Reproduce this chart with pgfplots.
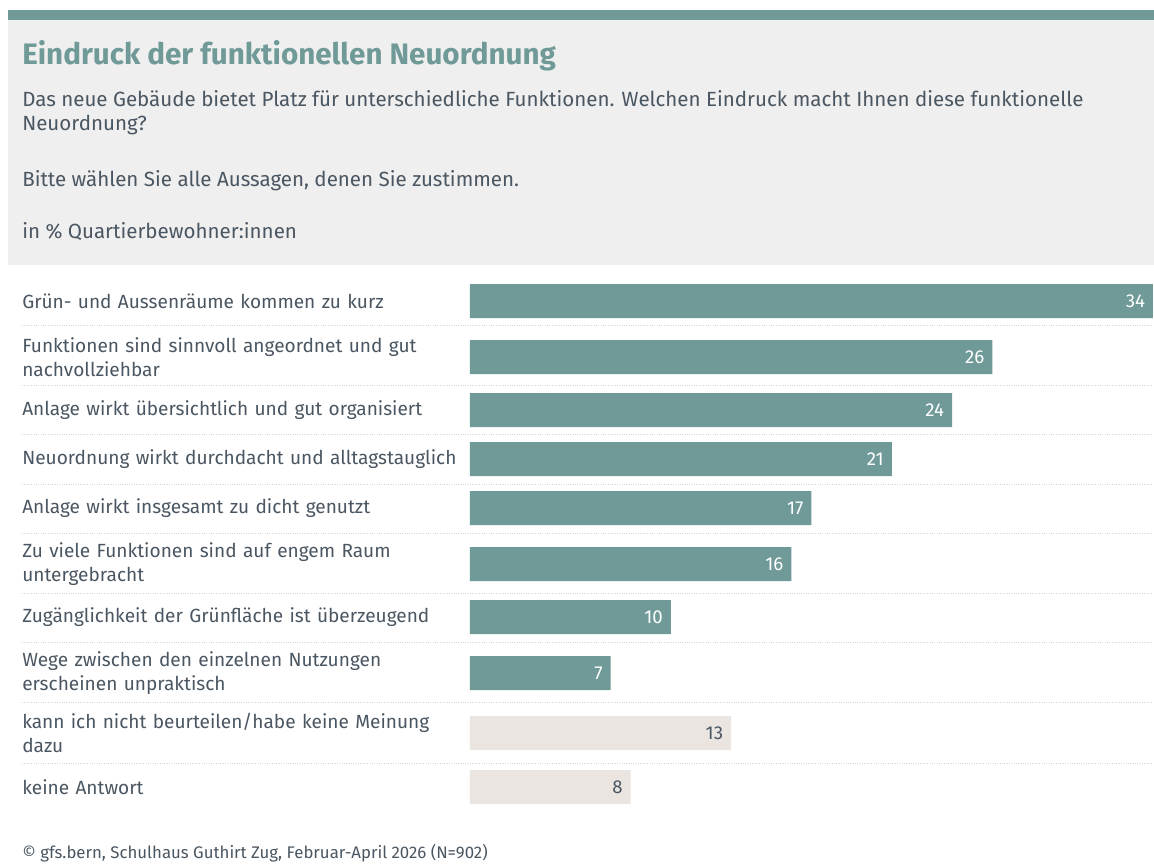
\documentclass[border=0pt]{standalone}
\usepackage{fontspec}
\setmainfont{Fira Sans}
\usepackage{pgfplots}
\pgfplotsset{compat=1.18}
\definecolor{barteal}{HTML}{6F9A97}
\definecolor{beigebar}{HTML}{EAE5E1}
\definecolor{hdrgray}{HTML}{EFEFEF}
\definecolor{txt}{HTML}{4A5661}
\definecolor{sepcol}{HTML}{D4D4D4}
\begin{document}
\begin{tikzpicture}
\begin{scope}[x=0.75pt,y=-0.75pt]
\useasboundingbox (0,0) rectangle (1154,866);
\fill[hdrgray] (8,20) rectangle (1154,265);
\fill[barteal] (8,10) rectangle (1154,20);
\node[anchor=base west, inner sep=0pt, text=barteal, font=\fontsize{22.2}{26}\selectfont\bfseries] at (22,65) {Eindruck der funktionellen Neuordnung};
\node[anchor=base west, inner sep=0pt, text=txt, font=\fontsize{15.4}{18}\selectfont] at (22,107) {Das neue Gebäude bietet Platz für unterschiedliche Funktionen. Welchen Eindruck macht Ihnen diese funktionelle};
\node[anchor=base west, inner sep=0pt, text=txt, font=\fontsize{15.4}{18}\selectfont] at (22,131) {Neuordnung?};
\node[anchor=base west, inner sep=0pt, text=txt, font=\fontsize{15.4}{18}\selectfont] at (22,187) {Bitte wählen Sie alle Aussagen, denen Sie zustimmen.};
\node[anchor=base west, inner sep=0pt, text=txt, font=\fontsize{15.4}{18}\selectfont] at (22,239) {in \% Quartierbewohner:innen};
\foreach \yy in {326,386,435,484,533,593,642,702,763}
  \draw[sepcol, line width=0.75pt, densely dotted] (22,\yy) -- (1154,\yy);
\node[anchor=base west, inner sep=0pt, text=txt, font=\fontsize{12.6}{14}\selectfont] at (22,858) {© gfs.bern, Schulhaus Guthirt Zug, Februar-April 2026 (N=902)};
\end{scope}
\begin{axis}[
  at={(352.5pt,0pt)}, anchor=north west,
  scale only axis, width=512.25pt, height=649.5pt,
  xmin=0, xmax=34, ymin=0, ymax=866, y dir=reverse,
  axis line style={draw=none}, xtick=\empty,
  ytick={301,357,410,459,508,564,617,673,733,787},
  yticklabels={
    {Grün- und Aussenräume kommen zu kurz},
    {Funktionen sind sinnvoll angeordnet und gut\\nachvollziehbar},
    {Anlage wirkt übersichtlich und gut organisiert},
    {Neuordnung wirkt durchdacht und alltagstauglich},
    {Anlage wirkt insgesamt zu dicht genutzt},
    {Zu viele Funktionen sind auf engem Raum\\untergebracht},
    {Zugänglichkeit der Grünfläche ist überzeugend},
    {Wege zwischen den einzelnen Nutzungen\\erscheinen unpraktisch},
    {kann ich nicht beurteilen/habe keine Meinung\\dazu},
    {keine Antwort}},
  major tick length=0pt,
  yticklabel style={anchor=west, inner sep=0pt, xshift=-336pt, text width=335pt, align=left, font=\fontsize{14.3}{18}\selectfont, text=txt},
  xbar, bar width=34,
  clip=false,
  point meta=x,
  /pgf/number format/assume math mode=true,
  nodes near coords,
  every node near coord/.append style={anchor=east, xshift=-2.5pt, font=\fontsize{14}{16}\selectfont},
]
\addplot[fill=barteal, draw=none, bar shift=0pt, every node near coord/.append style={text=white}] coordinates {(34,301) (26,357) (24,410) (21,459) (17,508) (16,564) (10,617) (7,673)};
\addplot[fill=beigebar, draw=none, bar shift=0pt, every node near coord/.append style={text=txt}] coordinates {(13,733) (8,787)};
\end{axis}
\end{tikzpicture}
\end{document}
